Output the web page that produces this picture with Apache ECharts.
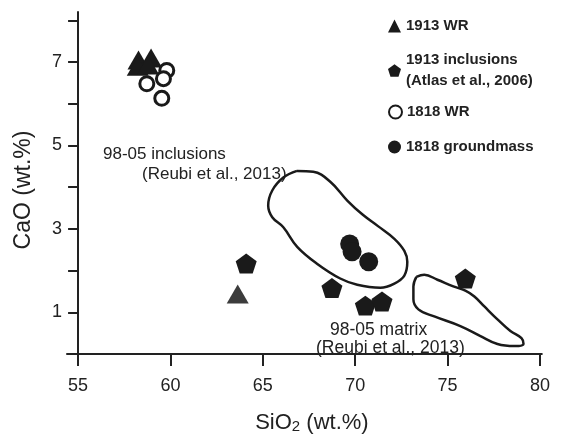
<!DOCTYPE html>
<html>
<head>
<meta charset="utf-8">
<script src="https://cdn.jsdelivr.net/npm/echarts@6/dist/echarts.min.js"></script>
<style>html,body{margin:0;padding:0;background:#fff;}#c{width:571px;height:439px;}</style>
</head>
<body>
<div id="c"></div>
<script>
// ---- data ----
const xTicks = [55, 60, 65, 70, 75, 80];
const yTicks = [0, 1, 2, 3, 4, 5, 6, 7, 8];
const yLabels = [1, 3, 5, 7];
const seriesNames = ['1913 WR', '1913 inclusions', '1818 WR', '1818 groundmass'];
const legendSecondLine = '(Atlas et al., 2006)';
const wr1913 = [[58.27, 7.05], [58.95, 7.10], [58.23, 6.90], [58.79, 6.93], [63.64, 1.44]];
const incl1913 = [[64.10, 2.17], [68.74, 1.58], [70.55, 1.16], [71.45, 1.26], [75.96, 1.81]];
const wr1818 = [[59.80, 6.80], [59.62, 6.60], [58.72, 6.48], [59.53, 6.13]];
const gm1818 = [[69.70, 2.64], [69.83, 2.45], [70.73, 2.21]];
const fieldInclusions = [
  [66.85, 4.39], [67.73, 4.37], [68.65, 4.13], [69.57, 3.68], [70.38, 3.35], [71.25, 3.06],
  [72.12, 2.76], [72.66, 2.47], [72.82, 2.21], [72.66, 1.88], [72.12, 1.69], [71.36, 1.59],
  [70.11, 1.66], [69.19, 1.81], [67.95, 2.16], [66.86, 2.57], [66.11, 3.04], [65.51, 3.28],
  [65.29, 3.56], [65.51, 3.92], [66.11, 4.23], [66.85, 4.39]
];
const fieldMatrix = [
  [73.31, 1.85], [73.74, 1.90], [74.45, 1.78], [75.31, 1.62], [75.96, 1.52], [76.45, 1.38],
  [76.99, 1.14], [77.70, 0.83], [78.40, 0.55], [79.00, 0.38], [79.11, 0.24], [78.62, 0.19],
  [77.70, 0.24], [76.78, 0.43], [75.69, 0.67], [74.28, 0.90], [73.42, 1.07], [73.15, 1.31],
  [73.15, 1.62], [73.31, 1.85]
];
const annotations = ['98-05 inclusions', '(Reubi et al., 2013)', '98-05 matrix', '(Reubi et al., 2013)'];

// ---- chart ----
const FONT = '"Liberation Sans", Arial, sans-serif';
const INK = '#1a1a1a';
const pentagon = 'path://M0,-10 L9.511,-3.09 L5.878,8.09 L-5.878,8.09 L-9.511,-3.09 Z';
const chart = echarts.init(document.getElementById('c'), null, { renderer: 'canvas' });

const legendBase = {
  orient: 'vertical', padding: 0, itemGap: 0, itemWidth: 13, itemHeight: 13,
  selectedMode: false, left: 388,
  textStyle: { fontFamily: FONT, fontSize: 15, fontWeight: 'bold', color: '#222', lineHeight: 20 }
};

const fieldLine = (data) => ({
  type: 'line', data: data, smooth: 0.4, showSymbol: false, symbol: 'none', silent: true,
  lineStyle: { color: INK, width: 2.5 }, z: 1
});

chart.setOption({
  backgroundColor: '#fff',
  animation: false,
  textStyle: { fontFamily: FONT },
  grid: { left: 67, right: 29.2, top: 12, bottom: 81, containLabel: false },
  xAxis: {
    type: 'value', min: 54.4, max: 80.1,
    name: '{a|SiO}{b|2}{a| (wt.%)}', nameLocation: 'middle', nameGap: 58,
    nameTextStyle: {
      padding: [0, 0, 0, 15],
      rich: {
        a: { fontSize: 22, fontFamily: FONT, color: '#222' },
        b: { fontSize: 15, fontFamily: FONT, color: '#222', verticalAlign: 'bottom' }
      }
    },
    splitLine: { show: false },
    axisLine: { show: true, lineStyle: { color: '#222', width: 2 } },
    axisTick: { show: true, customValues: xTicks, length: 12, lineStyle: { color: '#222', width: 2 } },
    axisLabel: { customValues: xTicks, fontSize: 18, color: '#222', margin: 23, fontFamily: FONT }
  },
  yAxis: {
    type: 'value', min: 0, max: 8.2, offset: -11.08,
    name: 'CaO (wt.%)', nameLocation: 'middle', nameGap: 43, nameRotate: 90,
    nameTextStyle: { fontSize: 23, color: '#222', fontFamily: FONT, padding: [0, 14, 0, 0] },
    splitLine: { show: false },
    axisLine: { show: true, lineStyle: { color: '#222', width: 2 } },
    axisTick: { show: true, customValues: yTicks, length: 10, lineStyle: { color: '#222', width: 2 } },
    axisLabel: { customValues: yLabels, fontSize: 18, color: '#222', margin: 16, fontFamily: FONT }
  },
  legend: [
    Object.assign({}, legendBase, { data: [seriesNames[0]], top: 16 }),
    Object.assign({}, legendBase, {
      data: [seriesNames[1]], top: 49.5,
      formatter: (n) => n + '\n' + legendSecondLine,
      textStyle: Object.assign({}, legendBase.textStyle, { lineHeight: 21 })
    }),
    Object.assign({}, legendBase, { data: [seriesNames[2]], top: 102 }),
    Object.assign({}, legendBase, { data: [seriesNames[3]], top: 137 })
  ],
  graphic: [
    { type: 'text', left: 103, top: 146, style: { text: annotations[0], font: '17px ' + FONT, fill: '#222' } },
    { type: 'text', left: 142, top: 166, style: { text: annotations[1], font: '17px ' + FONT, fill: '#222' } },
    { type: 'text', left: 330, top: 321, style: { text: annotations[2], font: '17.5px ' + FONT, fill: '#222' } },
    { type: 'text', left: 316, top: 339, style: { text: annotations[3], font: '17.5px ' + FONT, fill: '#222' } }
  ],
  series: [
    Object.assign(fieldLine(fieldInclusions), { name: 'field-incl' }),
    Object.assign(fieldLine(fieldMatrix), { name: 'field-matrix' }),
    {
      name: seriesNames[0], type: 'scatter', symbol: 'triangle', symbolSize: [22, 19], z: 3,
      itemStyle: { color: INK, opacity: 1 },
      data: wr1913.map((p, i) => i === wr1913.length - 1 ? { value: p, itemStyle: { color: '#3c3c3c' } } : p)
    },
    {
      name: seriesNames[1], type: 'scatter', symbol: pentagon, symbolKeepAspect: true, symbolSize: 21, z: 4,
      itemStyle: { color: INK, opacity: 1 }, data: incl1913
    },
    {
      name: seriesNames[2], type: 'scatter', symbol: 'circle', symbolSize: 14, z: 5,
      itemStyle: { color: '#fff', borderColor: INK, borderWidth: 3, opacity: 1 }, data: wr1818
    },
    {
      name: seriesNames[3], type: 'scatter', symbol: 'circle', symbolSize: 19, z: 6,
      itemStyle: { color: INK, opacity: 1 }, data: gm1818
    }
  ]
});
</script>
</body>
</html>
